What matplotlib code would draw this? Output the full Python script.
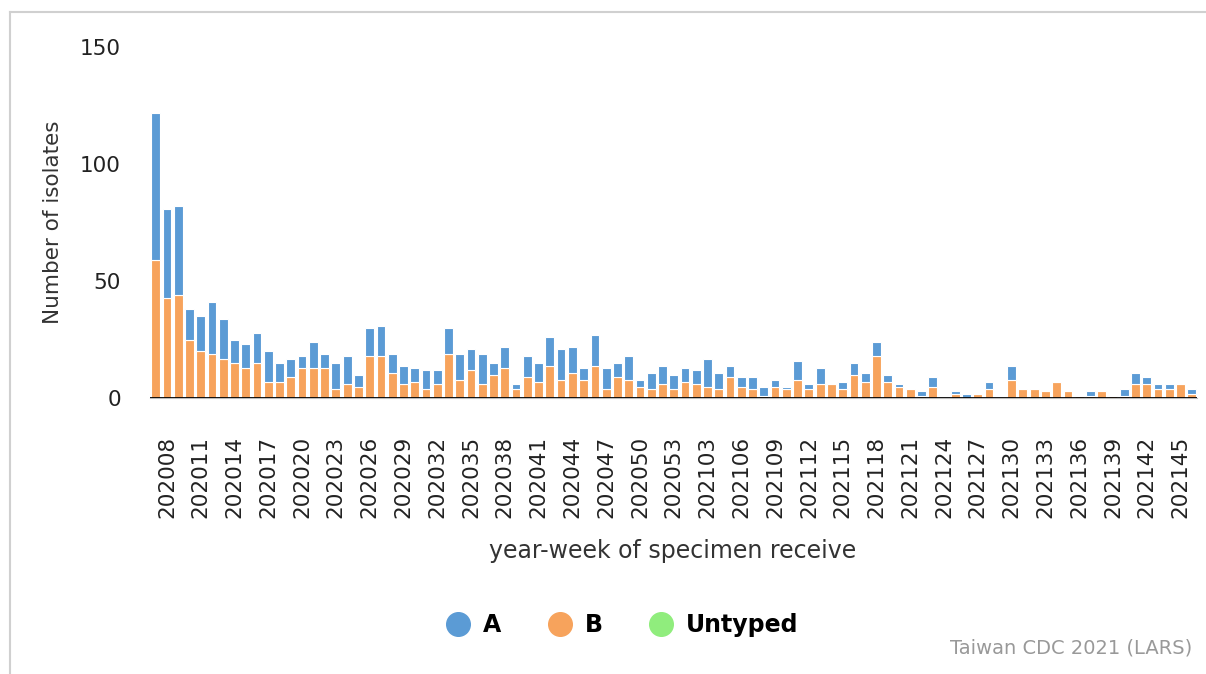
import numpy as np
import matplotlib
matplotlib.use("Agg")
import matplotlib.pyplot as plt
from matplotlib.lines import Line2D

# --- categories: year-week 202007..202053, 202101..202146 ---
weeks = [f"2020{w:02d}" for w in range(7, 54)] + [f"2021{w:02d}" for w in range(1, 47)]

# --- isolates per week ---
type_b = [59, 43, 44, 25, 20, 19, 17, 15, 13, 15, 7, 7, 9, 13, 13, 13, 4, 6, 5, 18,
          18, 11, 6, 7, 4, 6, 19, 8, 12, 6, 10, 13, 4, 9, 7, 14, 8, 11, 8, 14,
          4, 9, 8, 5, 4, 6, 4, 7, 6, 5, 4, 9, 5, 4, 1, 5, 4, 8, 4, 6,
          6, 4, 10, 7, 18, 7, 5, 4, 1, 5, 0, 2, 0, 2, 4, 0, 8, 4, 4, 3,
          7, 3, 1, 1, 3, 1, 1, 6, 6, 4, 4, 6, 2]
type_a = [63, 38, 38, 13, 15, 22, 17, 10, 10, 13, 13, 8, 8, 5, 11, 6, 11, 12, 5, 12,
          13, 8, 8, 6, 8, 6, 11, 11, 9, 13, 5, 9, 2, 9, 8, 12, 13, 11, 5, 13,
          9, 6, 10, 3, 7, 8, 6, 6, 6, 12, 7, 5, 4, 5, 4, 3, 1, 8, 2, 7,
          0, 3, 5, 4, 6, 3, 1, 0, 2, 4, 0, 1, 2, 0, 3, 0, 6, 0, 0, 0,
          0, 0, 0, 2, 0, 0, 3, 5, 3, 2, 2, 0, 2]
untyped = [0] * len(weeks)

col_a = "#5b9bd5"
col_b = "#f7a35c"
col_u = "#90ed7d"

fig = plt.figure(figsize=(12.06, 6.74), dpi=100)
ax = fig.add_axes([0.1244, 0.409, 0.8685, 0.5213])

x = np.arange(len(weeks))
b = np.array(type_b)
a = np.array(type_a)
u = np.array(untyped)

ax.bar(x, u, width=0.78, color=col_u, edgecolor="white", linewidth=0.8)
ax.bar(x, b, bottom=u, width=0.78, color=col_b, edgecolor="white", linewidth=0.8)
ax.bar(x, a, bottom=u + b, width=0.78, color=col_a, edgecolor="white", linewidth=0.8)

ax.set_xlim(-0.5, len(weeks) - 0.5)
ax.set_ylim(0, 150)
ax.set_yticks([0, 50, 100, 150])

tick_idx = list(range(1, len(weeks), 3))
ax.set_xticks(tick_idx)
ax.set_xticklabels([weeks[i] for i in tick_idx], rotation=90)

ax.tick_params(axis="x", length=0, pad=27, labelsize=15.5, labelcolor="#222222")
ax.tick_params(axis="y", length=0, pad=21, labelsize=15.5, labelcolor="#222222")

for s in ["top", "right", "left"]:
    ax.spines[s].set_visible(False)
ax.spines["bottom"].set_color("#bbbbbb")
ax.axhline(0, color="black", lw=2, zorder=5)

ax.set_ylabel("Number of isolates", fontsize=15.5, color="#333333")
ax.yaxis.set_label_coords(-0.083, 0.5)
ax.set_xlabel("year-week of specimen receive", fontsize=17, color="#333333")
ax.xaxis.set_label_coords(0.499, -0.40)

handles = [Line2D([], [], ls="none", marker="o", markersize=17, color=c)
           for c in (col_a, col_b, col_u)]
fig.legend(handles, ["A", "B", "Untyped"], loc="center",
           bbox_to_anchor=(0.516, 0.073), ncol=3, frameon=False,
           prop={"size": 17, "weight": "bold"}, handlelength=1.0,
           handletextpad=0.55, columnspacing=2.0)

fig.text(0.989, 0.025, "Taiwan CDC 2021 (LARS)", ha="right", va="bottom",
         fontsize=14, color="#999999")

# container border (top and left edges visible in the screenshot)
fig.add_artist(Line2D([10 / 1206, 1], [1 - 12 / 674, 1 - 12 / 674],
                      transform=fig.transFigure, color="#d0d0d0", lw=1.5))
fig.add_artist(Line2D([10 / 1206, 10 / 1206], [0, 1 - 12 / 674],
                      transform=fig.transFigure, color="#d0d0d0", lw=1.5))

fig.savefig("out.png", dpi=100)
